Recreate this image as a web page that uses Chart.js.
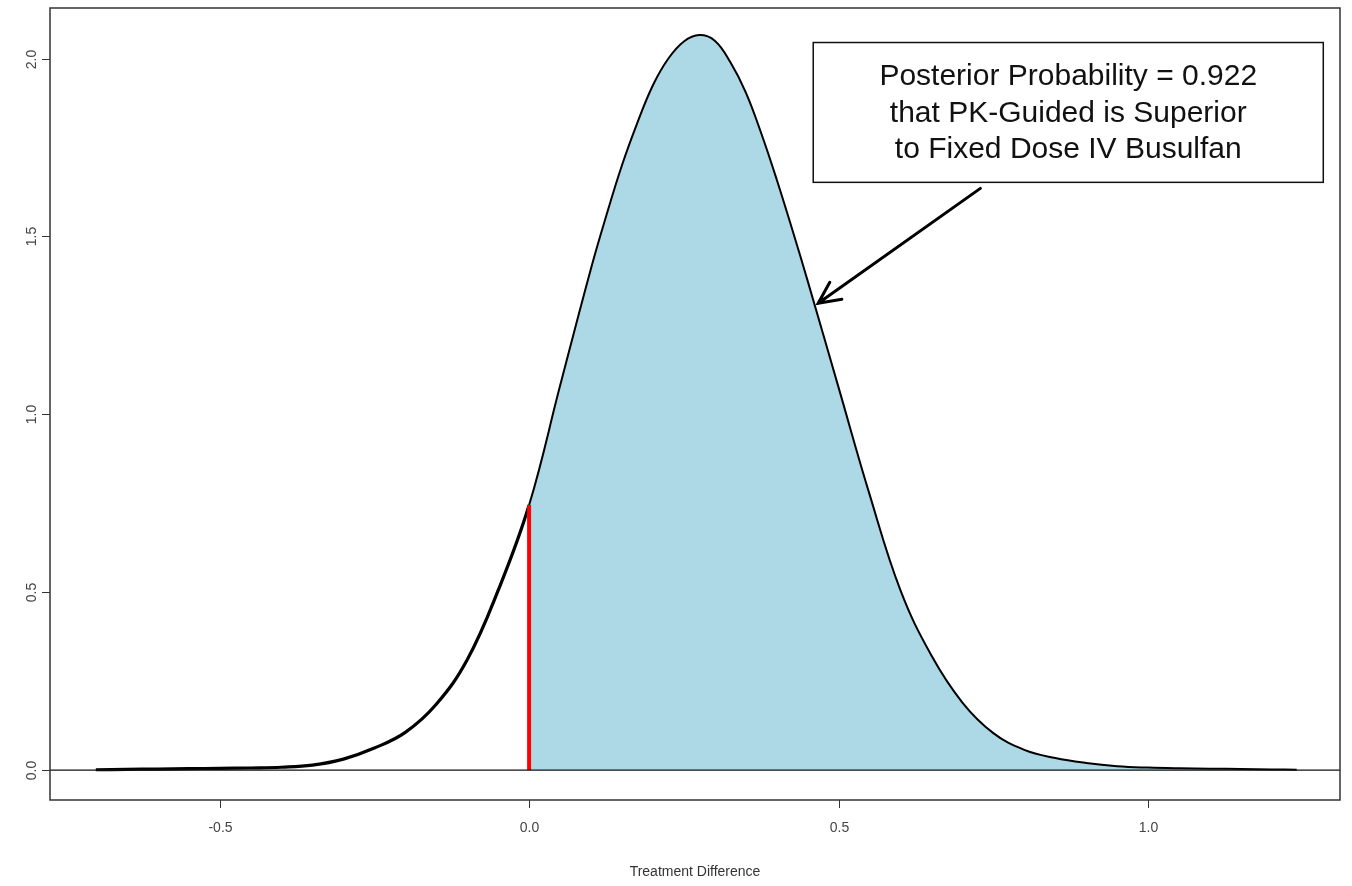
<!DOCTYPE html>
<html>
<head>
<meta charset="utf-8">
<script src="https://cdn.jsdelivr.net/npm/chart.js@4.4.1/dist/chart.umd.min.js"></script>
<style>
  html, body { margin: 0; padding: 0; background: #fff; }
  canvas { display: block; }
</style>
</head>
<body>
<canvas id="chart" width="1352" height="886"></canvas>
<script>
// posterior density of the treatment difference
const diffValues = [-0.70, -0.65, -0.60, -0.55, -0.50, -0.45, -0.40, -0.35, -0.30, -0.25,
  -0.20, -0.15, -0.10, -0.05, 0.00, 0.05, 0.10, 0.125, 0.15, 0.175, 0.20, 0.225, 0.25, 0.275,
  0.30, 0.325, 0.35, 0.375, 0.40, 0.425, 0.45, 0.50, 0.55, 0.60, 0.65, 0.70, 0.75, 0.80, 0.85,
  0.90, 0.95, 1.00, 1.05, 1.10, 1.15, 1.20, 1.24];
const densityValues = [0.001, 0.002, 0.003, 0.004, 0.005, 0.006, 0.008, 0.014, 0.031, 0.062,
  0.106, 0.185, 0.310, 0.505, 0.745, 1.080, 1.410, 1.560, 1.700, 1.820, 1.925, 2.000, 2.048, 2.066,
  2.050, 1.990, 1.905, 1.790, 1.660, 1.520, 1.375, 1.075, 0.775, 0.505, 0.322, 0.190, 0.104, 0.057, 0.034,
  0.020, 0.011, 0.007, 0.005, 0.004, 0.003, 0.002, 0.001];

const cutoff = 0;
const xTicks = [-0.5, 0.0, 0.5, 1.0];
const yTicks = [0.0, 0.5, 1.0, 1.5, 2.0];
const xRange = [-0.774, 1.310];
const yRange = [-0.084, 2.142];

const xTitle = 'Treatment Difference';
const noteLines = [
  'Posterior Probability = 0.922',
  'that PK-Guided is Superior',
  'to Fixed Dose IV Busulfan'
];

const points = diffValues.map((x, i) => ({ x, y: densityValues[i] }));
const rightPart = points.filter(p => p.x >= cutoff);
const cutHeight = densityValues[diffValues.indexOf(cutoff)];

const FONT = '"Liberation Sans", Arial, sans-serif';

// R-like frame, ticks, labels, zero line and the annotation
const rDecor = {
  id: 'rDecor',
  afterDatasetsDraw(chart) {
    const { ctx, chartArea: a, scales: { x, y } } = chart;
    ctx.save();

    // abline(h = 0)
    ctx.strokeStyle = '#111';
    ctx.lineWidth = 1.3;
    ctx.beginPath();
    ctx.moveTo(a.left, y.getPixelForValue(0));
    ctx.lineTo(a.right, y.getPixelForValue(0));
    ctx.stroke();

    // box
    ctx.strokeStyle = '#333';
    ctx.lineWidth = 1.5;
    ctx.strokeRect(a.left, a.top, a.right - a.left, a.bottom - a.top);

    ctx.fillStyle = '#444';
    ctx.font = '14px ' + FONT;
    ctx.lineWidth = 1;

    // x axis
    ctx.textAlign = 'center';
    ctx.textBaseline = 'middle';
    xTicks.forEach(v => {
      const px = Math.round(x.getPixelForValue(v)) + 0.5;
      ctx.beginPath();
      ctx.moveTo(px, a.bottom);
      ctx.lineTo(px, a.bottom + 8);
      ctx.stroke();
      ctx.fillText(v.toFixed(1), px, a.bottom + 28);
    });

    // y axis, labels turned like R's las = 0
    yTicks.forEach(v => {
      const py = Math.round(y.getPixelForValue(v)) + 0.5;
      ctx.beginPath();
      ctx.moveTo(a.left, py);
      ctx.lineTo(a.left - 8, py);
      ctx.stroke();
      ctx.save();
      ctx.translate(a.left - 18, py);
      ctx.rotate(-Math.PI / 2);
      ctx.fillText(v.toFixed(1), 0, 0);
      ctx.restore();
    });

    ctx.fillStyle = '#333';
    ctx.fillText(xTitle, (a.left + a.right) / 2, a.bottom + 72);

    // annotation box
    const bx0 = x.getPixelForValue(0.459), bx1 = x.getPixelForValue(1.283);
    const by0 = y.getPixelForValue(2.045), by1 = y.getPixelForValue(1.652);
    ctx.fillStyle = '#fff';
    ctx.fillRect(bx0, by0, bx1 - bx0, by1 - by0);
    ctx.strokeStyle = '#111';
    ctx.lineWidth = 1.5;
    ctx.strokeRect(bx0, by0, bx1 - bx0, by1 - by0);

    ctx.fillStyle = '#111';
    ctx.font = '30px ' + FONT;
    const cx = (bx0 + bx1) / 2;
    [1.950, 1.846, 1.744].forEach((v, i) => {
      ctx.fillText(noteLines[i], cx, y.getPixelForValue(v));
    });

    // arrow
    const ax0 = x.getPixelForValue(0.729), ay0 = y.getPixelForValue(1.635);
    const ax1 = x.getPixelForValue(0.467), ay1 = y.getPixelForValue(1.312);
    ctx.strokeStyle = '#000';
    ctx.lineWidth = 3;
    ctx.lineCap = 'round';
    ctx.beginPath();
    ctx.moveTo(ax0, ay0);
    ctx.lineTo(ax1, ay1);
    const ang = Math.atan2(ay0 - ay1, ax0 - ax1);
    const head = 24, spread = Math.PI / 7;
    ctx.moveTo(ax1 + head * Math.cos(ang - spread), ay1 + head * Math.sin(ang - spread));
    ctx.lineTo(ax1, ay1);
    ctx.lineTo(ax1 + head * Math.cos(ang + spread), ay1 + head * Math.sin(ang + spread));
    ctx.stroke();

    ctx.restore();
  }
};

new Chart(document.getElementById('chart'), {
  type: 'scatter',
  data: {
    datasets: [
      {
        label: 'cutoff',
        data: [{ x: cutoff, y: 0 }, { x: cutoff, y: cutHeight }],
        showLine: true,
        borderColor: '#ff0000',
        borderWidth: 4,
        pointRadius: 0,
        order: 1
      },
      {
        label: 'density',
        data: points,
        showLine: true,
        borderColor: '#000',
        borderWidth: 2,
        segment: {
          borderWidth: c => (c.p0.parsed.x < cutoff ? 3.2 : 2)
        },
        pointRadius: 0,
        tension: 0.4,
        order: 2
      },
      {
        label: 'area',
        data: rightPart,
        showLine: true,
        borderWidth: 0,
        borderColor: 'rgba(0,0,0,0)',
        backgroundColor: '#add8e6',
        fill: 'origin',
        pointRadius: 0,
        tension: 0.4,
        order: 3
      }
    ]
  },
  options: {
    responsive: false,
    animation: false,
    layout: { padding: { left: 50, top: 8, right: 12, bottom: 86 } },
    plugins: { legend: { display: false }, tooltip: { enabled: false } },
    scales: {
      x: { type: 'linear', min: xRange[0], max: xRange[1], display: false },
      y: { type: 'linear', min: yRange[0], max: yRange[1], display: false }
    }
  },
  plugins: [rDecor]
});
</script>
</body>
</html>
